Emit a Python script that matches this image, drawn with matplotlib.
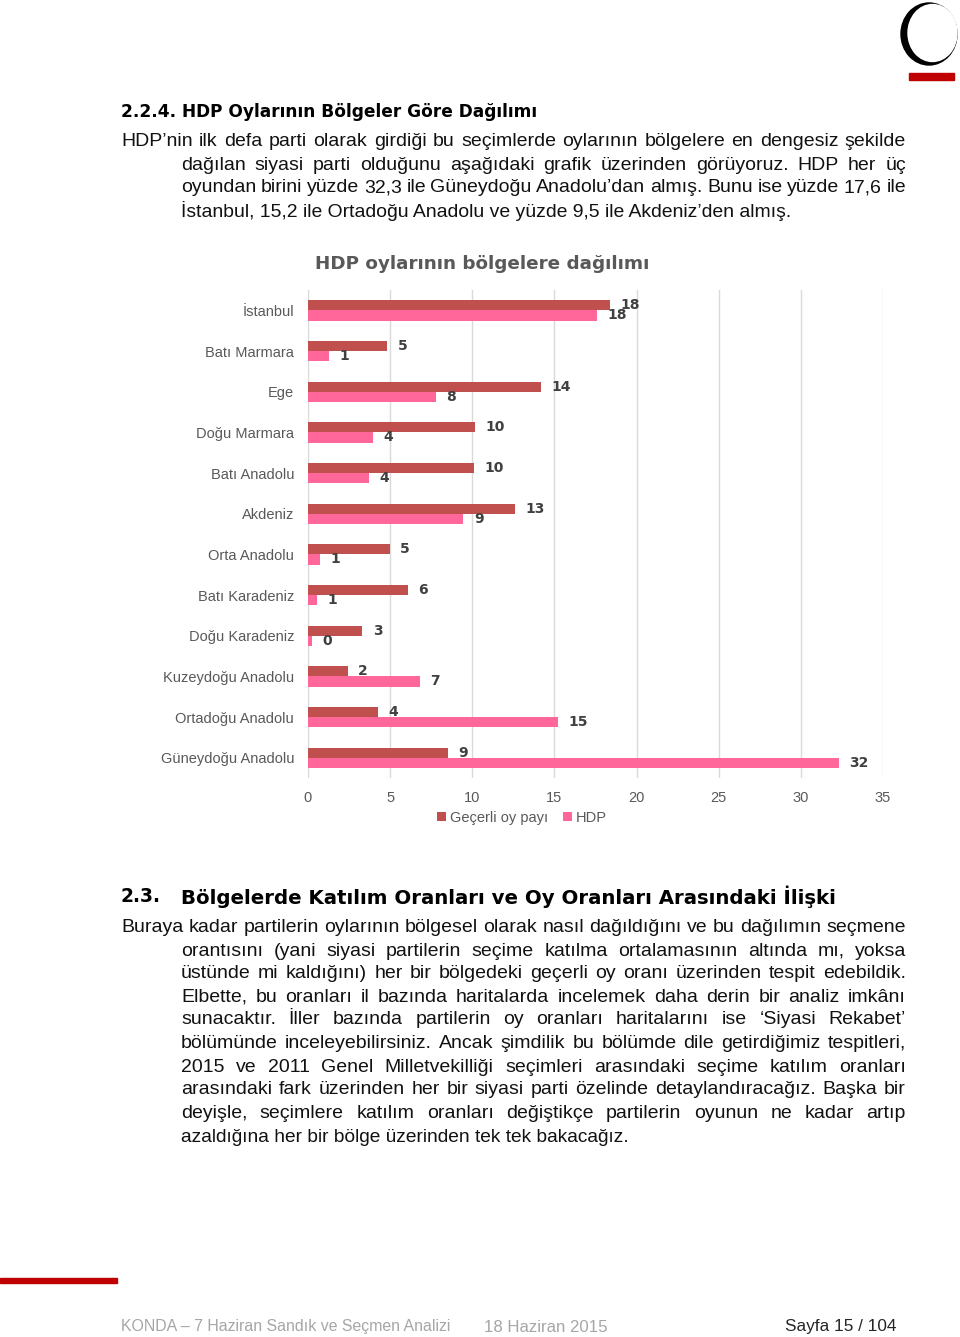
import matplotlib
matplotlib.use("Agg")
import matplotlib.pyplot as plt
from matplotlib.patches import Ellipse, Rectangle

W, H = 960, 1337

regions = ["İstanbul", "Batı Marmara", "Ege", "Doğu Marmara", "Batı Anadolu", "Akdeniz",
           "Orta Anadolu", "Batı Karadeniz", "Doğu Karadeniz", "Kuzeydoğu Anadolu",
           "Ortadoğu Anadolu", "Güneydoğu Anadolu"]
gecerli = [18.4, 4.83, 14.17, 10.14, 10.12, 12.59, 4.97, 6.06, 3.31, 2.43, 4.26, 8.51]
hdp = [17.6, 1.28, 7.79, 3.93, 3.71, 9.46, 0.71, 0.53, 0.24, 6.81, 15.2, 32.3]
series_names = ["Geçerli oy payı", "HDP"]
xticks = [0, 5, 10, 15, 20, 25, 30, 35]

chart_title = "HDP oylarının bölgelere dağılımı"
heading1 = "2.2.4. HDP Oylarının Bölgeler Göre Dağılımı"
heading2_num = "2.3."
heading2 = "Bölgelerde Katılım Oranları ve Oy Oranları Arasındaki İlişki"
para1 = [
    "HDP’nin ilk defa parti olarak girdiği bu seçimlerde oylarının bölgelere en dengesiz şekilde",
    "dağılan siyasi parti olduğunu aşağıdaki grafik üzerinden görüyoruz. HDP her üç",
    "oyundan birini yüzde 32,3 ile Güneydoğu Anadolu’dan almış. Bunu ise yüzde 17,6 ile",
    "İstanbul, 15,2 ile Ortadoğu Anadolu ve yüzde 9,5 ile Akdeniz’den almış.",
]
para2 = [
    "Buraya kadar partilerin oylarının bölgesel olarak nasıl dağıldığını ve bu dağılımın seçmene",
    "orantısını (yani siyasi partilerin seçime katılma ortalamasının altında mı, yoksa",
    "üstünde mi kaldığını) her bir bölgedeki geçerli oy oranı üzerinden tespit edebildik.",
    "Elbette, bu oranları il bazında haritalarda incelemek daha derin bir analiz imkânı",
    "sunacaktır. İller bazında partilerin oy oranları haritalarını ise ‘Siyasi Rekabet’",
    "bölümünde inceleyebilirsiniz. Ancak şimdilik bu bölümde dile getirdiğimiz tespitleri,",
    "2015 ve 2011 Genel Milletvekilliği seçimleri arasındaki seçime katılım oranları",
    "arasındaki fark üzerinden her bir siyasi parti özelinde detaylandıracağız. Başka bir",
    "deyişle, seçimlere katılım oranları değiştikçe partilerin oyunun ne kadar artıp",
    "azaldığına her bir bölge üzerinden tek tek bakacağız.",
]
footer_left = "KONDA – 7 Haziran Sandık ve Seçmen Analizi"
footer_mid = "18 Haziran 2015"
footer_right = "Sayfa 15 / 104"

DARK = "#C0504D"
PINK = "#FF6699"
BODY = "Liberation Sans"
HEAVY = "DejaVu Sans"

fig = plt.figure(figsize=(W / 100, H / 100), dpi=100)
bg = fig.add_axes([0, 0, 1, 1])
bg.set_xlim(0, W)
bg.set_ylim(H, 0)
bg.axis("off")
renderer = fig.canvas.get_renderer()


def put(x, y, s, width=None, **kw):
    t = bg.text(x, y, s, va="center", **kw)
    if width:
        w = t.get_window_extent(renderer).width
        t.set_fontsize(t.get_fontsize() * width / w)
    return t


def justify(x0, x1, y, line, **kw):
    words = line.split()
    ts = [bg.text(0, y, w, va="center", **kw) for w in words]
    ws = [t.get_window_extent(renderer).width for t in ts]
    gap = (x1 - x0 - sum(ws)) / (len(words) - 1)
    x = x0
    for t, w in zip(ts, ws):
        t.set_x(x)
        x += w + gap


def paragraph(lines, ys, last_width, **kw):
    for i, (line, y) in enumerate(zip(lines, ys)):
        x0 = 121 if i == 0 else 181
        if i == len(lines) - 1:
            put(x0, y, line, width=last_width, **kw)
        else:
            justify(x0, 906, y, line, **kw)


body_kw = dict(family=BODY, fontsize=14.0, color="#111111")

# logo
bg.add_patch(Ellipse((929, 34), 56, 62, color="black"))
bg.add_patch(Ellipse((932.5, 33), 49, 57, color="white"))
bg.add_patch(Rectangle((909, 73), 45, 7, color="#C00000"))

# headings and text
put(121, 112, heading1, width=414, family=HEAVY, weight="bold", fontsize=13, color="black")
paragraph(para1, [142, 165, 188, 211], 614, **body_kw)
put(315, 264, chart_title, width=335, family=HEAVY, weight="bold", fontsize=12, color="#595959")

put(121, 897, heading2_num, width=40, family=HEAVY, weight="bold", fontsize=15, color="black")
put(181, 897, heading2, width=657, family=HEAVY, weight="bold", fontsize=15, color="black")
paragraph(para2, [928, 951, 974, 997, 1020, 1043, 1067, 1090, 1113, 1137], 454, **body_kw)

# footer
bg.add_patch(Rectangle((0, 1278), 117, 5, color="#C00000"))
put(121, 1327, footer_left, width=328, family=BODY, fontsize=11, color="#A6A6A6")
put(484, 1327, footer_mid, width=123, family=BODY, fontsize=11, color="#A6A6A6")
put(785, 1327, footer_right, width=111, family=BODY, fontsize=11, color="#262626")

# chart
ax = fig.add_axes([308 / W, 1 - 778 / H, (883 - 308) / W, (778 - 290) / H])
pos = list(range(len(regions)))
bh = 0.25
b1 = ax.barh([p - bh / 2 for p in pos], gecerli, height=bh, color=DARK, label=series_names[0])
b2 = ax.barh([p + bh / 2 for p in pos], hdp, height=bh, color=PINK, label=series_names[1])
for bars, vals in ((b1, gecerli), (b2, hdp)):
    for bar, v in zip(bars, vals):
        ax.annotate(f"{v:.0f}", (v, bar.get_y() + bar.get_height() / 2),
                    xytext=(7.5, 0), textcoords="offset points", ha="left", va="center",
                    family=HEAVY, weight="bold", fontsize=10, color="#404040")
ax.set_xlim(0, 35)
ax.set_ylim(len(regions) - 0.5, -0.5)
ax.set_xticks(xticks)
ax.set_yticks(pos)
ax.set_yticklabels(regions)
ax.tick_params(length=0, labelsize=10.5, labelcolor="#595959")
ax.tick_params(axis="y", pad=10)
ax.tick_params(axis="x", pad=9)
for lab in ax.get_xticklabels() + ax.get_yticklabels():
    lab.set_family(BODY)
ax.grid(axis="x", color="#D9D9D9", lw=1)
ax.set_axisbelow(True)
for s in ax.spines.values():
    s.set_visible(False)
ax.patch.set_alpha(0)

fig.legend(loc="center", bbox_to_anchor=(522 / W, 1 - 818 / H), ncol=2, frameon=False,
           handlelength=0.6, handleheight=0.6, handletextpad=0.3, columnspacing=1.0,
           prop=dict(family=BODY, size=10.5), labelcolor="#595959")

fig.savefig("out.png", dpi=100)
